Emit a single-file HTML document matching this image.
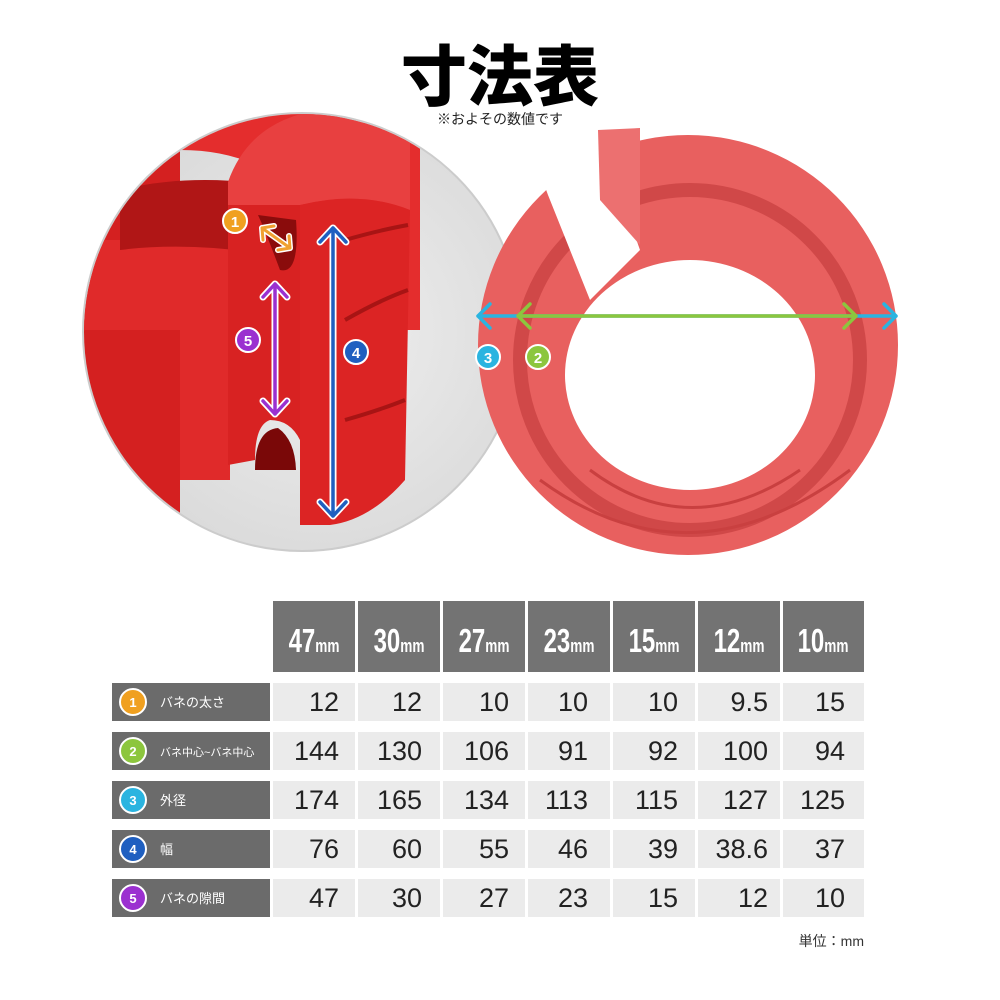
<!DOCTYPE html>
<html><head><meta charset="utf-8"><style>
html,body{margin:0;padding:0;background:#fff;width:1000px;height:1000px;overflow:hidden}
svg{display:block}
.jp{font-family:"Liberation Sans","Noto Sans CJK JP",sans-serif}
</style></head><body>
<svg width="1000" height="1000" viewBox="0 0 1000 1000" xmlns="http://www.w3.org/2000/svg" class="jp">
<defs>
<radialGradient id="bg" cx="0.55" cy="0.5" r="0.6"><stop offset="0" stop-color="#efefef"/><stop offset="1" stop-color="#d8d8d8"/></radialGradient>
<clipPath id="cc"><circle cx="302" cy="332" r="218"/></clipPath>
</defs>

<!-- left circle photo -->
<circle cx="302" cy="332" r="219" fill="url(#bg)" stroke="#ccc" stroke-width="2"/>
<g clip-path="url(#cc)">
  <rect x="80" y="110" width="100" height="450" fill="#d42020"/>
  <path d="M80,240 L230,240 L230,480 L180,480 L180,330 L80,330Z" fill="#e02a2a"/>
  <path d="M120,190 Q200,170 300,190 L300,260 Q200,240 120,250Z" fill="#b01616"/>
  <path d="M180,110 L420,110 L420,330 L300,330 L300,200 Q260,150 180,150Z" fill="#e42d2d"/>
  <path d="M228,182 Q250,120 320,110 L410,110 L410,210 Q360,190 300,205 L228,205Z" fill="#e84040"/>
  <path d="M300,205 Q360,190 410,210 L405,480 Q370,520 330,525 L300,525Z" fill="#dc2424"/>
  <path d="M228,205 L300,205 L300,440 Q290,420 270,420 Q255,425 255,460 L228,465Z" fill="#d82222"/>
  <path d="M258,215 Q265,230 280,270 Q300,275 296,220Z" fill="#8a0c0c"/>
  <path d="M255,470 Q255,430 278,428 Q295,440 296,470Z" fill="#7a0808"/>
  <path d="M345,240 Q380,230 408,225 M345,320 Q380,300 408,290 M345,420 Q380,410 405,400" stroke="#a81414" stroke-width="4" fill="none"/>
</g>
<!-- arrows left -->
<g fill="none" stroke-linecap="round" stroke-linejoin="round">
<g stroke="#fff" stroke-width="7">
<path d="M333,228 V516 M320,242 L333,228 L346,242 M320,502 L333,516 L346,502"/>
<path d="M275,284 V414 M263,297 L275,284 L287,297 M263,401 L275,414 L287,401"/>
</g>
<g stroke="#1f5fc0" stroke-width="3.5"><path d="M333,228 V516 M320,242 L333,228 L346,242 M320,502 L333,516 L346,502"/></g>
<g stroke="#9b30d0" stroke-width="3.5"><path d="M275,284 V414 M263,297 L275,284 L287,297 M263,401 L275,414 L287,401"/></g>
<g stroke="#fff" stroke-width="6"><path d="M262,228 L290,248 M262,228 L263,240 M262,228 L274,226 M290,248 L289,236 M290,248 L278,250"/></g>
<g stroke="#f0a030" stroke-width="3"><path d="M262,228 L290,248 M262,228 L263,240 M262,228 L274,226 M290,248 L289,236 M290,248 L278,250"/></g>
</g>
<g font-weight="bold" font-size="15" text-anchor="middle" fill="#fff">
<circle cx="235" cy="221" r="12" fill="#f0a020" stroke="#fff" stroke-width="2"/><text x="235" y="227">1</text>
<circle cx="248" cy="340" r="12" fill="#9b30d0" stroke="#fff" stroke-width="2"/><text x="248" y="346">5</text>
<circle cx="356" cy="352" r="12" fill="#1f5fc0" stroke="#fff" stroke-width="2"/><text x="356" y="358">4</text>
</g>

<!-- right ring -->
<path fill-rule="evenodd" fill="#e8605f" d="M898,345 A210,210 0 1 1 478,345 A210,210 0 1 1 898,345Z M815,375 A125,115 0 1 0 565,375 A125,115 0 1 0 815,375Z"/>
<path fill="none" stroke="#d04848" stroke-width="14" d="M860,360 A170,170 0 1 1 520,360 A170,170 0 1 1 860,360Z"/>
<path d="M590,470 Q690,545 800,470" stroke="#c94040" stroke-width="3" fill="none"/>
<path d="M540,480 Q690,590 850,470" stroke="#c94040" stroke-width="3" fill="none"/>
<path d="M525,132 L548,195 L590,300 L640,250 L598,130Z" fill="#fff"/>
<path d="M598,130 L640,128 L640,245 L600,200Z" fill="#ec7070"/>
<g fill="none" stroke-linecap="round" stroke-linejoin="round" stroke-width="3.5">
<path stroke="#2ab4e0" d="M478,316 H896 M490,304 L478,316 L490,328 M884,304 L896,316 L884,328"/>
<path stroke="#8cc63e" d="M518,316 H856 M530,304 L518,316 L530,328 M844,304 L856,316 L844,328"/>
</g>
<g font-weight="bold" font-size="15" text-anchor="middle" fill="#fff">
<circle cx="488" cy="357" r="12" fill="#2ab4e0" stroke="#fff" stroke-width="2"/><text x="488" y="363">3</text>
<circle cx="538" cy="357" r="12" fill="#8cc63e" stroke="#fff" stroke-width="2"/><text x="538" y="363">2</text>
</g>

<!-- title -->
<text x="500" y="100" text-anchor="middle" font-size="66" font-weight="900" fill="#000" font-family="Noto Sans CJK JP, sans-serif">寸法表</text>
<text x="500" y="124" text-anchor="middle" font-size="14" fill="#222">※およその数値です</text>

<!-- table header -->
<g fill="#737373">
<rect x="273" y="601" width="82" height="71"/><rect x="358" y="601" width="82" height="71"/><rect x="443" y="601" width="82" height="71"/><rect x="528" y="601" width="82" height="71"/><rect x="613" y="601" width="82" height="71"/><rect x="698" y="601" width="82" height="71"/><rect x="783" y="601" width="81" height="71"/>
</g>
<g fill="#fff" font-family="Liberation Sans Narrow, Liberation Sans, sans-serif" font-weight="bold" text-anchor="middle">
<g transform="translate(314,652) scale(0.8,1.1)"><text font-size="30"><tspan>47</tspan><tspan font-size="17">mm</tspan></text></g>
<g transform="translate(399,652) scale(0.8,1.1)"><text font-size="30"><tspan>30</tspan><tspan font-size="17">mm</tspan></text></g>
<g transform="translate(484,652) scale(0.8,1.1)"><text font-size="30"><tspan>27</tspan><tspan font-size="17">mm</tspan></text></g>
<g transform="translate(569,652) scale(0.8,1.1)"><text font-size="30"><tspan>23</tspan><tspan font-size="17">mm</tspan></text></g>
<g transform="translate(654,652) scale(0.8,1.1)"><text font-size="30"><tspan>15</tspan><tspan font-size="17">mm</tspan></text></g>
<g transform="translate(739,652) scale(0.8,1.1)"><text font-size="30"><tspan>12</tspan><tspan font-size="17">mm</tspan></text></g>
<g transform="translate(823,652) scale(0.8,1.1)"><text font-size="30"><tspan>10</tspan><tspan font-size="17">mm</tspan></text></g>
</g>

<!-- rows -->
<g fill="#6b6b6b">
<rect x="112" y="683" width="158" height="38"/><rect x="112" y="732" width="158" height="38"/><rect x="112" y="781" width="158" height="38"/><rect x="112" y="830" width="158" height="38"/><rect x="112" y="879" width="158" height="38"/>
</g>
<g fill="#ebebeb">
<rect x="273" y="683" width="591" height="38"/><rect x="273" y="732" width="591" height="38"/><rect x="273" y="781" width="591" height="38"/><rect x="273" y="830" width="591" height="38"/><rect x="273" y="879" width="591" height="38"/>
</g>
<g fill="#fff">
<rect x="355" y="683" width="3" height="234"/><rect x="440" y="683" width="3" height="234"/><rect x="525" y="683" width="3" height="234"/><rect x="610" y="683" width="3" height="234"/><rect x="695" y="683" width="3" height="234"/><rect x="780" y="683" width="3" height="234"/>
</g>
<g font-weight="bold" font-size="13" fill="#fff" text-anchor="middle">
<circle cx="133" cy="702" r="13" fill="#f0a020" stroke="#fff" stroke-width="2"/><text x="133" y="707">1</text>
<circle cx="133" cy="751" r="13" fill="#8cc63e" stroke="#fff" stroke-width="2"/><text x="133" y="756">2</text>
<circle cx="133" cy="800" r="13" fill="#2ab4e0" stroke="#fff" stroke-width="2"/><text x="133" y="805">3</text>
<circle cx="133" cy="849" r="13" fill="#1f5fc0" stroke="#fff" stroke-width="2"/><text x="133" y="854">4</text>
<circle cx="133" cy="898" r="13" fill="#9b30d0" stroke="#fff" stroke-width="2"/><text x="133" y="903">5</text>
</g>
<g fill="#fff" font-size="13">
<text x="160" y="707">バネの太さ</text>
<text x="160" y="756" font-size="11">バネ中心~バネ中心</text>
<text x="160" y="805">外径</text>
<text x="160" y="854">幅</text>
<text x="160" y="903">バネの隙間</text>
</g>
<g fill="#222" font-size="27" text-anchor="end">
<text x="339" y="711">12</text><text x="422" y="711">12</text><text x="509" y="711">10</text><text x="588" y="711">10</text><text x="678" y="711">10</text><text x="768" y="711">9.5</text><text x="845" y="711">15</text>
<text x="339" y="760">144</text><text x="422" y="760">130</text><text x="509" y="760">106</text><text x="588" y="760">91</text><text x="678" y="760">92</text><text x="768" y="760">100</text><text x="845" y="760">94</text>
<text x="339" y="809">174</text><text x="422" y="809">165</text><text x="509" y="809">134</text><text x="588" y="809">113</text><text x="678" y="809">115</text><text x="768" y="809">127</text><text x="845" y="809">125</text>
<text x="339" y="858">76</text><text x="422" y="858">60</text><text x="509" y="858">55</text><text x="588" y="858">46</text><text x="678" y="858">39</text><text x="768" y="858">38.6</text><text x="845" y="858">37</text>
<text x="339" y="907">47</text><text x="422" y="907">30</text><text x="509" y="907">27</text><text x="588" y="907">23</text><text x="678" y="907">15</text><text x="768" y="907">12</text><text x="845" y="907">10</text>
</g>
<text x="864" y="946" text-anchor="end" font-size="14" fill="#333">単位：mm</text>
</svg>
</body></html>
